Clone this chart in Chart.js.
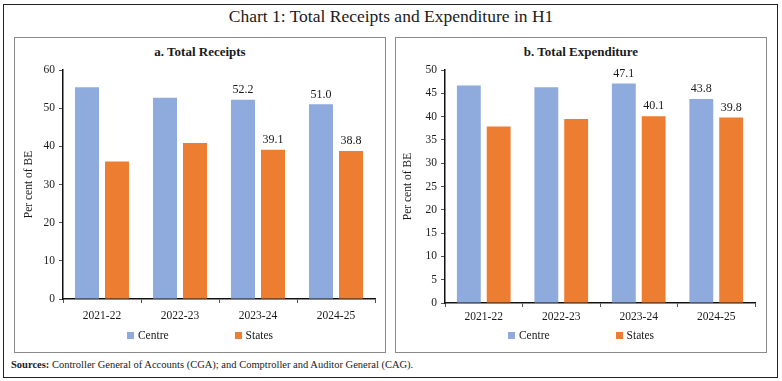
<!DOCTYPE html>
<html><head><meta charset="utf-8">
<script src="https://cdn.jsdelivr.net/npm/chart.js@4.4.1/dist/chart.umd.min.js"></script>
<style>
html,body{margin:0;padding:0;}
body{width:782px;height:381px;background:#fff;position:relative;overflow:hidden;font-family:"Liberation Serif",serif;color:#1a1a1a;}
#frame{position:absolute;left:3px;top:4px;width:775px;height:374px;border:1px solid #222;box-sizing:border-box;}
.panel{position:absolute;top:37px;width:372px;height:316px;border:1px solid #8a8a8a;box-sizing:border-box;}
canvas{position:absolute;top:37px;}
#title{position:absolute;left:0;top:6px;width:782px;text-align:center;font-size:17.5px;line-height:21px;}
.sub{position:absolute;top:44px;width:372px;text-align:center;font-weight:bold;font-size:13px;line-height:16px;}
#src{position:absolute;left:11px;top:358px;font-size:10.5px;line-height:13px;white-space:nowrap;}
</style></head>
<body>
<div id="frame"></div>
<div class="panel" style="left:14px"></div>
<div class="panel" style="left:395px"></div>
<div id="title">Chart 1: Total Receipts and Expenditure in H1</div>
<div class="sub" style="left:14px">a. Total Receipts</div>
<div class="sub" style="left:395px">b. Total Expenditure</div>
<canvas id="c1" width="372" height="316" style="left:14px"></canvas>
<canvas id="c2" width="372" height="316" style="left:395px"></canvas>
<div id="src"><b>Sources:</b> Controller General of Accounts (CGA); and Comptroller and Auditor General (CAG).</div>
<script>
const categories = ['2021-22', '2022-23', '2023-24', '2024-25'];
const seriesNames = ['Centre', 'States'];
const receiptsCentre = [55.5, 52.7, 52.2, 51.0];
const receiptsStates = [36.0, 40.9, 39.1, 38.8];
const expenditureCentre = [46.7, 46.3, 47.1, 43.8];
const expenditureStates = [37.9, 39.5, 40.1, 39.8];
const receiptsAxis = {min: 0, max: 60, step: 10};
const expenditureAxis = {min: 0, max: 50, step: 5};
const labelledCategories = ['2023-24', '2024-25'];
const yTitle = 'Per cent of BE';

const COLORS = ['#8FAADC', '#ED7D31'];
const FONT = '"Liberation Serif", serif';
const TXT = '#1a1a1a';

const valueLabels = {
  id: 'valueLabels',
  afterDatasetsDraw(chart) {
    const ctx = chart.ctx;
    ctx.save();
    ctx.font = '12px ' + FONT;
    ctx.fillStyle = TXT;
    ctx.textAlign = 'center';
    ctx.textBaseline = 'bottom';
    chart.data.datasets.forEach((ds, i) => {
      const meta = chart.getDatasetMeta(i);
      meta.data.forEach((bar, j) => {
        if (!labelledCategories.includes(chart.data.labels[j])) return;
        ctx.fillText(ds.data[j].toFixed(1), bar.x, bar.y - 4);
      });
    });
    ctx.restore();
  }
};

const customLegend = {
  id: 'customLegend',
  afterDraw(chart, args, opts) {
    const ctx = chart.ctx;
    ctx.save();
    ctx.font = '11.5px ' + FONT;
    const box = 7, gap = 4, spacing = 66;
    const items = chart.data.datasets.map(d => ({text: d.label, color: d.backgroundColor, w: ctx.measureText(d.label).width}));
    let total = 0;
    items.forEach((it, k) => { total += box + gap + it.w + (k ? spacing : 0); });
    let x = (chart.width - total) / 2;
    const y = opts.y;
    items.forEach((it, k) => {
      if (k) x += spacing;
      ctx.fillStyle = it.color;
      ctx.fillRect(Math.round(x), Math.round(y - box / 2), box, box);
      x += box + gap;
      ctx.fillStyle = TXT;
      ctx.textAlign = 'left';
      ctx.textBaseline = 'middle';
      ctx.fillText(it.text, x, y + 0.5);
      x += it.w;
    });
    ctx.restore();
  }
};

function makeChart(id, centre, states, axis, geo) {
  return new Chart(document.getElementById(id), {
    type: 'bar',
    data: {
      labels: categories,
      datasets: [
        {label: seriesNames[0], data: centre, backgroundColor: COLORS[0]},
        {label: seriesNames[1], data: states, backgroundColor: COLORS[1]}
      ]
    },
    options: {
      responsive: false,
      animation: false,
      devicePixelRatio: 1,
      datasets: {bar: {barPercentage: 0.8, categoryPercentage: 0.77}},
      layout: {padding: {left: 0, right: geo.padRight, top: 33, bottom: geo.padBottom}},
      plugins: {
        legend: {display: false},
        tooltip: {enabled: false},
        customLegend: {y: 298}
      },
      scales: {
        x: {
          afterFit: s => { s.height = geo.xHeight; },
          grid: {drawOnChartArea: false, drawTicks: true, tickLength: 4, color: '#555', offset: true},
          border: {display: true, color: '#111', width: 1.5},
          ticks: {color: TXT, font: {family: FONT, size: 11.5}, padding: geo.xPad, maxRotation: 0}
        },
        y: {
          min: axis.min, max: axis.max,
          afterFit: s => { s.width = geo.yWidth; },
          grid: {drawOnChartArea: false, drawTicks: true, tickLength: 4, color: '#555'},
          border: {display: true, color: '#111', width: 1.5},
          ticks: {stepSize: axis.step, color: TXT, font: {family: FONT, size: 11.5}, padding: 4},
          title: {display: true, text: yTitle, color: TXT, font: {family: FONT, size: 11.5}, padding: {top: geo.titlePad, bottom: 0}}
        }
      }
    },
    plugins: [valueLabels, customLegend]
  });
}

makeChart('c1', receiptsCentre, receiptsStates, receiptsAxis, {padRight: 11, padBottom: 32, xHeight: 22, yWidth: 49, xPad: 6, titlePad: 8});
makeChart('c2', expenditureCentre, expenditureStates, expenditureAxis, {padRight: 12, padBottom: 30, xHeight: 20, yWidth: 50, xPad: 3, titlePad: 6});
</script>
</body></html>
